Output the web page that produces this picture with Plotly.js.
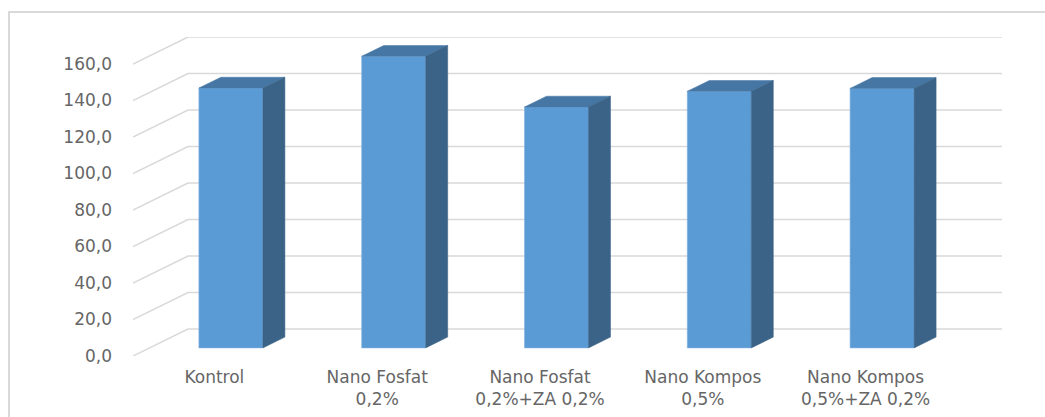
<!DOCTYPE html>
<html>
<head>
<meta charset="utf-8">
<script src="https://cdn.plot.ly/plotly-3.0.1.min.js"></script>
<style>
  html, body { margin:0; padding:0; background:#fff; overflow:hidden; }
  #frame { position:absolute; left:8px; top:11px; width:1100px; height:500px;
           border-left:2px solid #d9d9d9; border-top:2px solid #d9d9d9; box-sizing:border-box; }
  #chart { position:absolute; left:0; top:0; width:1045px; height:417px; }
</style>
</head>
<body>
<div id="frame"></div>
<div id="chart"></div>
<script>
// ---- data ----
const categories = ["Kontrol", "Nano Fosfat<br>0,2%", "Nano Fosfat<br>0,2%+ZA 0,2%", "Nano Kompos<br>0,5%", "Nano Kompos<br>0,5%+ZA 0,2%"];
const values = [142.4, 159.8, 132.0, 140.6, 142.2];
const yTicks = [0, 20, 40, 60, 80, 100, 120, 140, 160];
const yTickLabels = ["0,0", "20,0", "40,0", "60,0", "80,0", "100,0", "120,0", "140,0", "160,0"];

// ---- pseudo-3D geometry (pixel-based, converted to data units) ----
const W = 1045, H = 417;
const M = {l:133, r:43, t:37, b:61};
const plotW = W - M.l - M.r, plotH = H - M.t - M.b;
const depthPx = {x:55, y:27};
const nCat = categories.length;
const slotPx = (plotW - depthPx.x) / nCat;
const yMax = 160;
const pxPerUnit = (plotH - depthPx.y) / yMax;
const DX = depthPx.x / slotPx;
const DY = depthPx.y / pxPerUnit;
const barFront = 0.3, barDepth = 0.4;
const barW = 64 / slotPx;

const xRange = [-0.5, nCat - 0.5 + DX];
const yRange = [0, yMax + DY];

// gridlines (floor diagonal + back wall) as shapes below traces
const shapes = [];
yTicks.forEach(v => {
  shapes.push({type:'path', xref:'x', yref:'y', layer:'below',
    path: `M ${-0.5},${v} L ${-0.5 + DX},${v + DY} L ${nCat - 0.5 + DX},${v + DY}`,
    line:{color:'#d9d9d9', width:1.5}});
});

const frontColor = '#5b9bd5', topColor = '#4677a4', sideColor = '#3a6387';
const b0 = barFront * DY;
const xc = values.map((v, i) => i + barFront * DX);

const traces = [];
traces.push({
  type:'bar', x: xc, y: values, base: b0, width: barW,
  marker:{color: frontColor, line:{color:'#7fb0de', width:0.6}},
  hoverinfo:'skip', showlegend:false
});
values.forEach((v, i) => {
  const xl = xc[i] - barW/2, xr = xc[i] + barW/2;
  const ddx = barDepth * DX, ddy = barDepth * DY;
  traces.push({type:'scatter', mode:'lines', fill:'toself', fillcolor: topColor,
    x:[xl, xr, xr + ddx, xl + ddx, xl], y:[v + b0, v + b0, v + b0 + ddy, v + b0 + ddy, v + b0],
    line:{color: topColor, width:0.5}, hoverinfo:'skip', showlegend:false});
  traces.push({type:'scatter', mode:'lines', fill:'toself', fillcolor: sideColor,
    x:[xr, xr + ddx, xr + ddx, xr, xr], y:[b0, b0 + ddy, v + b0 + ddy, v + b0, b0],
    line:{color: sideColor, width:0.5}, hoverinfo:'skip', showlegend:false});
});

const layout = {
  width: W, height: H,
  margin: M,
  paper_bgcolor:'rgba(0,0,0,0)', plot_bgcolor:'rgba(0,0,0,0)',
  showlegend:false, hovermode:false,
  font:{family:'DejaVu Sans, Verdana, sans-serif', size:17, color:'#666666'},
  xaxis:{type:'linear', range:xRange, tickmode:'array', tickvals: categories.map((c,i)=>i),
         ticktext: categories, showgrid:false, zeroline:false, showline:false, ticks:'',
         ticklabelstandoff: 9, automargin:false, fixedrange:true},
  yaxis:{type:'linear', range:yRange, tickmode:'array', tickvals: yTicks, ticktext: yTickLabels,
         showgrid:false, zeroline:false, showline:false, ticks:'',
         ticklabelstandoff: 20, automargin:false, fixedrange:true},
  shapes: shapes
};

Plotly.newPlot('chart', traces, layout, {staticPlot:true, displayModeBar:false});
</script>
</body>
</html>
